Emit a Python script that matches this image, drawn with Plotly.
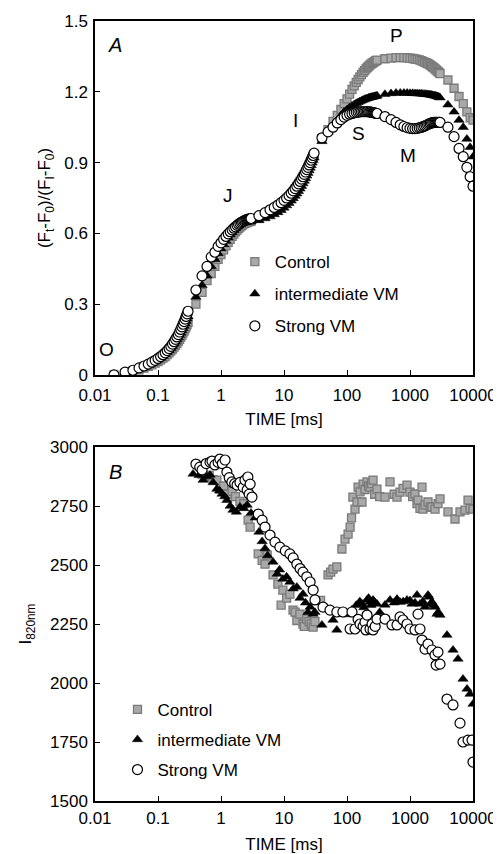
import math
import plotly.graph_objects as go

# ---------------- Panel A data ----------------
time_a = [0.02, 0.03, 0.04, 0.05, 0.06, 0.07, 0.08, 0.09, 0.10, 0.11, 0.12, 0.13, 0.14, 0.15,
          0.16, 0.17, 0.18, 0.19, 0.20, 0.21, 0.22, 0.23, 0.24, 0.25, 0.26, 0.27, 0.28, 0.29, 0.30,
          0.4, 0.5, 0.6, 0.7, 0.8, 0.9,
          1.0, 1.1, 1.2, 1.3, 1.4, 1.5, 1.6, 1.7, 1.8, 1.9, 2.0, 2.1, 2.2, 2.3, 2.4, 2.5, 2.6, 2.7,
          2.8, 2.9, 3.0,
          4, 5, 6, 7, 8, 9, 10, 11, 12, 13, 14, 15, 16, 17, 18, 19, 20, 21, 22, 23, 24, 25, 26, 27,
          28, 29, 30,
          40, 50, 60, 70, 80, 90, 100, 110, 120, 130, 140, 150, 160, 170, 180, 190, 200, 210, 220,
          230, 240, 250, 260, 270, 280, 290, 300,
          400, 500, 600, 700, 800, 900, 1000, 1100, 1200, 1300, 1400, 1500, 1600, 1700, 1800, 1900,
          2000, 2100, 2200, 2300, 2400, 2500, 2600, 2700, 2800, 2900, 3000,
          4000, 5000, 6000, 7000, 8000, 9000, 10000]

control_a = [0.000, 0.008, 0.015, 0.022, 0.029, 0.036, 0.043, 0.050, 0.057, 0.064, 0.071, 0.078,
             0.086, 0.094, 0.102, 0.110, 0.118, 0.126, 0.134, 0.142, 0.151, 0.160, 0.169, 0.178,
             0.187, 0.196, 0.205, 0.214, 0.223,
             0.30, 0.35, 0.40, 0.43, 0.46, 0.49,
             0.51, 0.53, 0.547, 0.562, 0.575, 0.587, 0.597, 0.606, 0.614, 0.621, 0.627, 0.632,
             0.636, 0.640, 0.643, 0.645, 0.647, 0.649, 0.650, 0.651, 0.652,
             0.665, 0.677, 0.689, 0.700, 0.711, 0.722, 0.733, 0.744, 0.755, 0.766, 0.777, 0.788,
             0.799, 0.810, 0.820, 0.830, 0.840, 0.850, 0.860, 0.870, 0.880, 0.890, 0.899, 0.908,
             0.917, 0.926, 0.935,
             1.00, 1.04, 1.075, 1.10, 1.125, 1.15, 1.17, 1.19, 1.21, 1.225, 1.24, 1.252, 1.263,
             1.273, 1.282, 1.290, 1.297, 1.303, 1.308, 1.313, 1.317, 1.321, 1.324, 1.327, 1.330,
             1.332, 1.334,
             1.340, 1.343, 1.345, 1.345, 1.345, 1.344, 1.343, 1.341, 1.339, 1.337, 1.335, 1.332,
             1.329, 1.326, 1.323, 1.320, 1.317, 1.313, 1.309, 1.305, 1.301, 1.297, 1.293, 1.289,
             1.285, 1.281, 1.277,
             1.25, 1.215, 1.18, 1.15, 1.115, 1.09, 1.08]

intermediate_a = [0.000, 0.010, 0.018, 0.026, 0.034, 0.042, 0.050, 0.057, 0.065, 0.072, 0.080,
                  0.088, 0.096, 0.104, 0.113, 0.122, 0.131, 0.140, 0.149, 0.158, 0.168, 0.178,
                  0.188, 0.198, 0.208, 0.218, 0.228, 0.238, 0.248,
                  0.33, 0.38, 0.42, 0.46, 0.49, 0.515,
                  0.535, 0.553, 0.568, 0.582, 0.594, 0.604, 0.613, 0.621, 0.628, 0.634, 0.639,
                  0.643, 0.646, 0.648, 0.649, 0.650, 0.650, 0.650, 0.650, 0.650, 0.650,
                  0.655, 0.663, 0.671, 0.680, 0.689, 0.698, 0.708, 0.718, 0.728, 0.738, 0.748,
                  0.758, 0.768, 0.778, 0.789, 0.800, 0.811, 0.822, 0.833, 0.844, 0.855, 0.866,
                  0.877, 0.888, 0.899, 0.910, 0.920,
                  0.99, 1.03, 1.06, 1.08, 1.10, 1.115, 1.125, 1.133, 1.140, 1.146, 1.151, 1.155,
                  1.159, 1.162, 1.165, 1.168, 1.170, 1.172, 1.174, 1.176, 1.177, 1.178, 1.179,
                  1.180, 1.181, 1.182, 1.183,
                  1.190, 1.193, 1.195, 1.195, 1.195, 1.195, 1.194, 1.194, 1.193, 1.193, 1.192,
                  1.192, 1.191, 1.190, 1.190, 1.189, 1.188, 1.187, 1.186, 1.185, 1.184, 1.183,
                  1.182, 1.180, 1.179, 1.177, 1.175,
                  1.145, 1.115, 1.08, 1.05, 1.00, 0.965, 0.925]

strong_a = [0.000, 0.012, 0.020, 0.030, 0.038, 0.046, 0.054, 0.062, 0.070, 0.078, 0.086, 0.094,
            0.103, 0.112, 0.121, 0.131, 0.141, 0.151, 0.161, 0.171, 0.182, 0.193, 0.204, 0.215,
            0.226, 0.237, 0.248, 0.259, 0.270,
            0.36, 0.42, 0.46, 0.50, 0.52, 0.545,
            0.56, 0.575, 0.587, 0.598, 0.607, 0.615, 0.622, 0.628, 0.634, 0.639, 0.643, 0.647,
            0.650, 0.653, 0.655, 0.657, 0.659, 0.660, 0.661, 0.662, 0.663,
            0.675, 0.688, 0.700, 0.710, 0.720, 0.730, 0.740, 0.750, 0.760, 0.770, 0.780, 0.790,
            0.800, 0.810, 0.820, 0.830, 0.840, 0.850, 0.860, 0.870, 0.880, 0.890, 0.900, 0.910,
            0.920, 0.930, 0.940,
            1.005, 1.030, 1.050, 1.068, 1.082, 1.093, 1.100, 1.105, 1.108, 1.111, 1.113, 1.114,
            1.115, 1.116, 1.116, 1.116, 1.116, 1.116, 1.115, 1.115, 1.114, 1.113, 1.112, 1.111,
            1.110, 1.109, 1.108,
            1.095, 1.082, 1.070, 1.060, 1.053, 1.048, 1.045, 1.044, 1.044, 1.045, 1.047, 1.049,
            1.052, 1.055, 1.058, 1.061, 1.064, 1.066, 1.068, 1.069, 1.070, 1.071, 1.071, 1.071,
            1.071, 1.071, 1.070,
            1.05, 1.01, 0.96, 0.925, 0.88, 0.84, 0.80]

# ---------------- Panel B data ----------------
control_b_t = [0.50, 0.55, 0.65, 0.75, 0.86, 0.96, 1.1, 1.29, 1.5, 1.7, 2.0, 2.3, 2.7, 2.9, 3.9,
               4.5, 5.0, 5.4, 6.7, 8.0, 9.0, 9.6, 11, 12.4, 13.9, 15, 16, 17.9, 20, 21, 23, 25,
               27, 29, 31, 38, 50, 55, 60, 69, 83, 93, 104, 112, 118, 124, 134, 144, 150, 161,
               173, 180, 193, 208, 220, 232, 245, 259, 275, 299, 330, 401, 482, 560, 622, 694,
               775, 896, 1000, 1100, 1200, 1290, 1340, 1442, 1550, 1607, 1730, 1930, 2100, 2234,
               2495, 2783, 2995, 4008, 5180, 6220, 7460, 8340, 9000, 10000]
control_b = [2885, 2873, 2880, 2862, 2860, 2822, 2835, 2801, 2812, 2790, 2770, 2760, 2690, 2661,
             2547, 2520, 2504, 2542, 2458, 2419, 2330, 2394, 2360, 2377, 2309, 2300, 2265, 2292,
             2250, 2240, 2271, 2260, 2250, 2237, 2260, 2350, 2458, 2470, 2483, 2492, 2568, 2610,
             2631, 2661, 2700, 2788, 2737, 2767, 2830, 2810, 2767, 2843, 2820, 2852, 2835, 2830,
             2845, 2860, 2800, 2822, 2790, 2788, 2852, 2800, 2788, 2809, 2825, 2839, 2809, 2790,
             2801, 2760, 2775, 2740, 2830, 2737, 2755, 2767, 2745, 2746, 2737, 2760, 2780, 2725,
             2695, 2725, 2733, 2775, 2740, 2737]

intermediate_b_t = [0.36, 0.45, 0.52, 0.6, 0.67, 0.75, 0.86, 0.95, 1.04, 1.15, 1.24, 1.4, 1.55,
                    1.75, 2.0, 2.3, 2.6, 3.0, 3.5, 4.0, 4.5, 5.0, 5.5, 6.7, 7.8, 8.5, 9.6, 11,
                    12.4, 14, 16, 18, 20, 22, 24, 26, 29, 31, 40, 60, 69, 100, 120, 140, 160,
                    173, 185, 208, 220, 232, 240, 259, 270, 299, 330, 401, 482, 560, 622, 694,
                    780, 896, 1000, 1076, 1200, 1291, 1442, 1600, 1730, 1930, 2000, 2100, 2234,
                    2400, 2495, 2683, 2800, 2995, 3866, 4818, 5780, 6940, 8040, 8960, 10000]
intermediate_b = [2886, 2880, 2860, 2875, 2881, 2850, 2822, 2815, 2801, 2790, 2775, 2750, 2733,
                  2725, 2746, 2740, 2754, 2720, 2700, 2640, 2600, 2570, 2540, 2513, 2462, 2480,
                  2441, 2450, 2428, 2400, 2407, 2360, 2377, 2340, 2300, 2322, 2292, 2300, 2246,
                  2267, 2225, 2290, 2310, 2330, 2345, 2335, 2320, 2352, 2360, 2343, 2330, 2352,
                  2345, 2335, 2300, 2331, 2352, 2340, 2356, 2343, 2345, 2352, 2350, 2335, 2340,
                  2373, 2335, 2345, 2322, 2373, 2365, 2335, 2343, 2330, 2322, 2292, 2300, 2288,
                  2203, 2140, 2102, 2017, 1975, 1953, 1911]

strong_b_t = [0.40, 0.46, 0.50, 0.58, 0.67, 0.72, 0.80, 0.90, 0.96, 1.05, 1.16, 1.24, 1.35,
              1.49, 1.65, 1.80, 2.0, 2.25, 2.4, 2.6, 2.67, 2.8, 2.9, 3.1, 3.9, 4.5, 5.0, 6.0,
              7.2, 8.6, 10.5, 12.4, 14, 16, 18, 20, 23, 26, 29, 31, 41.6, 53.7, 69, 86, 112,
              120, 134, 150, 161, 180, 193, 200, 208, 232, 250, 259, 280, 299, 401, 518, 622,
              694, 775, 896, 1000, 1200, 1340, 1442, 1550, 1730, 1930, 2234, 2495, 2600, 2782,
              2995, 3866, 4818, 6220, 6940, 8340, 9640, 10000]
strong_b = [2928, 2915, 2903, 2930, 2936, 2940, 2924, 2935, 2949, 2930, 2945, 2894, 2870, 2852,
            2845, 2839, 2850, 2830, 2860, 2818, 2873, 2800, 2843, 2788, 2716, 2690, 2661, 2627,
            2597, 2576, 2560, 2547, 2530, 2504, 2485, 2470, 2450, 2428, 2394, 2352, 2322, 2309,
            2301, 2301, 2229, 2301, 2229, 2270, 2250, 2240, 2258, 2225, 2288, 2229, 2250, 2225,
            2240, 2271, 2271, 2246, 2246, 2280, 2267, 2250, 2229, 2225, 2292, 2229, 2182, 2144,
            2165, 2140, 2119, 2076, 2131, 2080, 1932, 1907, 1830, 1750, 1758, 1758, 1665]

series_names = ["Control", "intermediate VM", "Strong VM"]
x_tick_vals = [0.01, 0.1, 1, 10, 100, 1000, 10000]
x_tick_text = ["0.01", "0.1", "1", "10", "100", "1000", "10000"]
ya_tick_vals = [0, 0.3, 0.6, 0.9, 1.2, 1.5]
ya_tick_text = ["0", "0.3", "0.6", "0.9", "1.2", "1.5"]
yb_tick_vals = [1500, 1750, 2000, 2250, 2500, 2750, 3000]
yb_tick_text = ["1500", "1750", "2000", "2250", "2500", "2750", "3000"]
phase_labels = ["O", "J", "I", "P", "S", "M"]
phase_t = [0.0155, 1.29, 15.5, 620, 155, 930]
phase_v = [0.11, 0.76, 1.08, 1.44, 1.025, 0.93]

FONT = "Liberation Sans, Arial, sans-serif"

styles = [
    dict(symbol="square", size=8, color="#a9a9a9", line=dict(color="#7a7a7a", width=1.3)),
    dict(symbol="triangle-up", size=9, color="black", line=dict(color="black", width=0.5)),
    dict(symbol="circle", size=10, color="white", line=dict(color="black", width=1.2)),
]

fig = go.Figure()

for name, vals, st in zip(series_names, [control_a, intermediate_a, strong_a], styles):
    fig.add_trace(go.Scatter(x=time_a, y=vals, mode="markers", name=name, marker=st,
                             xaxis="x", yaxis="y", legend="legend", legendgroup="a" + name))

for name, tt, vals, st in zip(series_names, [control_b_t, intermediate_b_t, strong_b_t],
                              [control_b, intermediate_b, strong_b], styles):
    fig.add_trace(go.Scatter(x=tt, y=vals, mode="markers", name=name, marker=st,
                             xaxis="x2", yaxis="y2", legend="legend2", legendgroup="b" + name))

axis_common = dict(showgrid=False, zeroline=False, showline=True, linecolor="black",
                   linewidth=1.5, mirror=True, ticks="inside", ticklen=5, tickwidth=1.3,
                   tickcolor="black", automargin=False,
                   tickfont=dict(family=FONT, size=17, color="black"))

# the page body has an 8 px margin, so the margins below are shifted by 8 px
fig.update_layout(
    template="none",
    width=501, height=854,
    margin=dict(l=87, r=36, t=13, b=61, autoexpand=False),
    paper_bgcolor="white", plot_bgcolor="white",
    font=dict(family=FONT, size=17, color="black"),
    showlegend=True,
    xaxis=dict(type="log", range=[-2, 4], domain=[0, 1], anchor="y",
               tickvals=x_tick_vals, ticktext=x_tick_text, ticklabelstandoff=4,
               title=dict(text="TIME [ms]", font=dict(size=17), standoff=9), **axis_common),
    yaxis=dict(range=[0, 1.5], domain=[0.5462, 1.0], anchor="x",
               tickvals=ya_tick_vals, ticktext=ya_tick_text, ticklabelstandoff=2,
               title=dict(text="(F<sub>t</sub>-F<sub>0</sub>)/(F<sub>I</sub>-F<sub>0</sub>)",
                          font=dict(size=17), standoff=9), **axis_common),
    xaxis2=dict(type="log", range=[-2, 4], domain=[0, 1], anchor="y2",
                tickvals=x_tick_vals, ticktext=x_tick_text, ticklabelstandoff=1,
                title=dict(text="TIME [ms]", font=dict(size=17), standoff=11), **axis_common),
    yaxis2=dict(range=[1500, 3000], domain=[0, 0.4538], anchor="x2",
                tickvals=yb_tick_vals, ticktext=yb_tick_text, ticklabelstandoff=2,
                title=dict(text="I<sub>820nm</sub>", font=dict(size=17), standoff=14),
                **axis_common),
    legend=dict(x=0.370, y=0.714, xanchor="left", yanchor="top", bgcolor="rgba(0,0,0,0)",
                font=dict(size=17), tracegroupgap=7, itemwidth=30),
    legend2=dict(x=0.0595, y=0.140, xanchor="left", yanchor="top", bgcolor="rgba(0,0,0,0)",
                 font=dict(size=17), tracegroupgap=5, itemwidth=30),
)

# Panel letters
fig.add_annotation(text="<i>A</i>", xref="x domain", yref="y domain", x=0.053, y=0.932,
                   xanchor="center", yanchor="middle", showarrow=False, font=dict(size=20))
fig.add_annotation(text="<i>B</i>", xref="x2 domain", yref="y2 domain", x=0.053, y=0.93,
                   xanchor="center", yanchor="middle", showarrow=False, font=dict(size=20))

# Phase labels
for lab, t, v in zip(phase_labels, phase_t, phase_v):
    fig.add_annotation(text=lab, x=math.log10(t), y=v, xref="x", yref="y",
                       xanchor="center", yanchor="middle", showarrow=False, font=dict(size=19))

fig.write_html("out.html")
